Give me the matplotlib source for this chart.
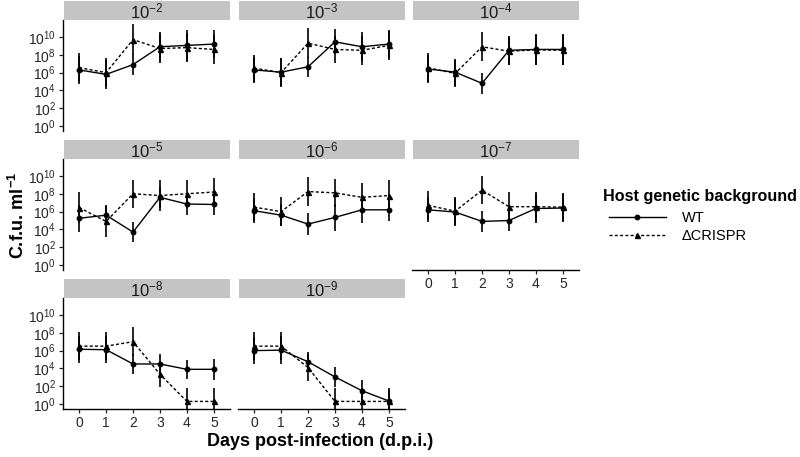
import numpy as np
import matplotlib.pyplot as plt
from matplotlib.lines import Line2D

plt.rcParams['font.family'] = ['Liberation Sans', 'DejaVu Sans']
plt.rcParams['mathtext.fontset'] = 'custom'
plt.rcParams['mathtext.rm'] = 'Liberation Sans'
plt.rcParams['mathtext.it'] = 'Liberation Sans:italic'
plt.rcParams['mathtext.bf'] = 'Liberation Sans:bold'

# ---- data (log10 c.f.u. per ml) ----
days = [0, 1, 2, 3, 4, 5]
dilutions = [-2, -3, -4, -5, -6, -7, -8, -9]

wt_mean = [
    [6.3, 5.8, 6.9, 8.9, 9.05, 9.2],
    [6.3, 6.05, 6.65, 9.45, 8.9, 9.2],
    [6.4, 6.05, 4.8, 8.5, 8.6, 8.6],
    [5.25, 5.6, 3.7, 7.6, 6.85, 6.8],
    [6.1, 5.6, 4.6, 5.35, 6.2, 6.2],
    [6.2, 5.95, 4.9, 5.0, 6.35, 6.4],
    [6.15, 6.1, 4.5, 4.5, 3.9, 3.9],
    [6.0, 6.05, 4.75, 3.05, 1.5, 0.35],
]
crispr_mean = [
    [6.55, 6.0, 9.7, 8.7, 8.8, 8.6],
    [6.5, 6.0, 9.3, 8.6, 8.5, 9.05],
    [6.55, 5.9, 8.9, 8.4, 8.55, 8.5],
    [6.45, 4.9, 8.0, 7.8, 8.0, 8.2],
    [6.5, 6.0, 8.25, 8.1, 7.6, 7.8],
    [6.7, 6.05, 8.4, 6.55, 6.55, 6.5],
    [6.5, 6.5, 7.0, 3.35, 0.3, 0.3],
    [6.5, 6.5, 4.1, 0.3, 0.3, 0.3],
]
wt_err = [
    [1.6, 1.6, 1.2, 1.6, 1.7, 1.6],
    [1.5, 1.6, 1.1, 1.4, 1.6, 1.6],
    [1.6, 1.5, 1.2, 1.6, 1.7, 1.7],
    [1.5, 1.1, 1.1, 1.2, 1.2, 1.2],
    [1.4, 1.2, 1.2, 1.5, 1.5, 1.3],
    [1.4, 1.6, 1.2, 1.2, 1.6, 1.6],
    [1.5, 1.5, 1.1, 1.1, 1.1, 1.2],
    [1.5, 1.6, 1.1, 1.1, 1.2, 1.2],
]
crispr_err = [
    [1.6, 1.6, 1.7, 1.6, 1.6, 1.6],
    [1.5, 1.6, 1.7, 1.5, 1.6, 1.6],
    [1.6, 1.5, 1.6, 1.6, 1.7, 1.7],
    [1.7, 1.7, 1.6, 1.7, 1.6, 1.6],
    [1.6, 1.6, 1.6, 1.6, 1.6, 1.7],
    [1.6, 1.6, 1.6, 1.6, 1.6, 1.6],
    [1.6, 1.6, 1.6, 1.4, 1.5, 1.5],
    [1.6, 1.6, 1.5, 1.5, 1.5, 1.5],
]
ytick_exp = [0, 2, 4, 6, 8, 10]

# ---- layout in pixels ----
W, H = 800, 457
fig = plt.figure(figsize=(W / 100, H / 100), dpi=100)

col_x = [63, 238, 412]
panel_w = 167
row_top = [20, 159, 298]      # panel tops (below strip)
panel_h = 111
strip_h = 19


def px_axes(x, y, w, h):
    return fig.add_axes([x / W, 1 - (y + h) / H, w / W, h / H])


def draw_series(ax, mean, err, marker, ls, ms):
    m = np.array(mean)
    e = np.array(err)
    y = 10 ** m
    lo = y - 10 ** (m - e)
    hi = 10 ** (m + e) - y
    ax.errorbar(days, y, yerr=[lo, hi], fmt='none', ecolor='black',
                elinewidth=1.2, capsize=0, zorder=2)
    ax.plot(days, y, color='black', lw=1.0, ls=ls, marker=marker,
            ms=ms, zorder=3)


for i, d in enumerate(dilutions):
    r, c = divmod(i, 3)
    x0 = col_x[c]
    y0 = row_top[r]
    ax = px_axes(x0, y0, panel_w, panel_h)

    draw_series(ax, wt_mean[i], wt_err[i], 'o', '-', 3.2)
    draw_series(ax, crispr_mean[i], crispr_err[i], '^', (0, (2.2, 1.6)), 3.6)

    ax.set_yscale('log')
    ax.set_ylim(10 ** -0.55, 10 ** 11.9)
    ax.set_xlim(-0.6, 5.6)
    ax.set_yticks([10.0 ** k for k in ytick_exp])
    ax.set_yticklabels([f'$10^{{{k}}}$' for k in ytick_exp])
    ax.minorticks_off()
    ax.set_xticks(days)
    ax.set_xticklabels([str(v) for v in days])

    for s in ['top', 'right']:
        ax.spines[s].set_visible(False)
    ax.spines['left'].set_linewidth(1.0)
    ax.spines['bottom'].set_linewidth(1.0)

    show_x = (r == 2) or (r == 1 and c == 2)
    if not show_x:
        ax.spines['bottom'].set_visible(False)
        ax.tick_params(axis='x', bottom=False, labelbottom=False)
    if c != 0:
        ax.tick_params(axis='y', left=False, labelleft=False)
        ax.spines['left'].set_visible(False)
    ax.tick_params(axis='both', labelsize=10, colors='#262626',
                   length=3, width=0.9, pad=2)
    ax.patch.set_alpha(0)

    # strip
    sax = px_axes(x0 + 1, y0 - strip_h, panel_w - 1, strip_h)
    sax.set_facecolor('#c4c4c4')
    sax.set_xticks([])
    sax.set_yticks([])
    for s in sax.spines.values():
        s.set_visible(False)
    sax.text(0.5, 0.45, f'$10^{{{d}}}$', ha='center', va='center',
             fontsize=12, transform=sax.transAxes, color='#1a1a1a')

# axis labels
fig.text(18 / W, 1 - 215 / H, 'C.f.u. ml$^{\\mathbf{-1}}$', rotation=90,
         ha='center', va='center', fontsize=13, fontweight='bold')
fig.text(320 / W, 1 - 441 / H, 'Days post-infection (d.p.i.)',
         ha='center', va='center', fontsize=13, fontweight='bold')

# legend
fig.text(603 / W, 1 - 196 / H, 'Host genetic background', ha='left',
         va='center', fontsize=11.6, fontweight='bold')
handles = [
    Line2D([], [], color='black', lw=1.0, ls='-', marker='o', ms=3.2),
    Line2D([], [], color='black', lw=1.0, ls=(0, (2.2, 1.6)), marker='^', ms=3.6),
]
leg = fig.legend(handles, ['WT', '\u0394CRISPR'],
                 loc='upper left', bbox_to_anchor=(609 / W, 1 - 211 / H),
                 frameon=False, fontsize=10.5, handlelength=3.9,
                 borderpad=0, borderaxespad=0,
                 labelspacing=0.25, handletextpad=1.1)

fig.savefig('out.png', dpi=100, facecolor='white')
